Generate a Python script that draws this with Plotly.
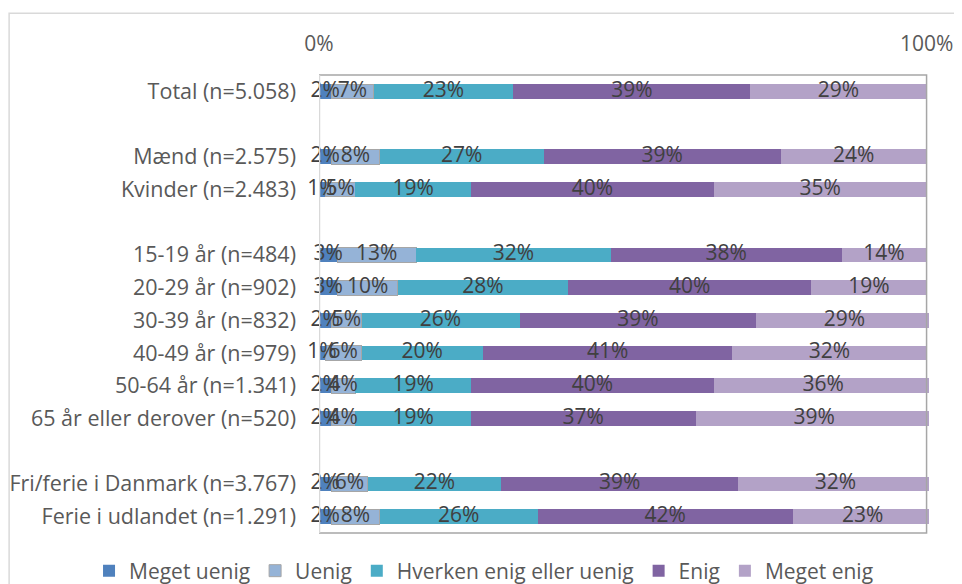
import plotly.graph_objects as go

categories = ["Total (n=5.058)", " ", "Mænd (n=2.575)", "Kvinder (n=2.483)", "  ",
              "15-19 år (n=484)", "20-29 år (n=902)", "30-39 år (n=832)", "40-49 år (n=979)",
              "50-64 år (n=1.341)", "65 år eller derover (n=520)", "   ",
              "Fri/ferie i Danmark (n=3.767)", "Ferie i udlandet (n=1.291)"]

series_names = ["Meget uenig", "Uenig", "Hverken enig eller uenig", "Enig", "Meget enig"]

meget_uenig = [2, None, 2, 1, None, 3, 3, 2, 1, 2, 2, None, 2, 2]
uenig       = [7, None, 8, 5, None, 13, 10, 5, 6, 4, 4, None, 6, 8]
hverken     = [23, None, 27, 19, None, 32, 28, 26, 20, 19, 19, None, 22, 26]
enig        = [39, None, 39, 40, None, 38, 40, 39, 41, 40, 37, None, 39, 42]
meget_enig  = [29, None, 24, 35, None, 14, 19, 29, 32, 36, 39, None, 32, 23]

tick_vals = [0, 100]
tick_text = ["0%", "100%"]

colors = ["#4F81BD", "#95B3D7", "#4BACC6", "#8064A2", "#B3A2C7"]
all_series = [meget_uenig, uenig, hverken, enig, meget_enig]

FONT = "Open Sans"
FS = 21
fig = go.Figure()
for name, vals, col in zip(series_names, all_series, colors):
    fig.add_trace(go.Bar(
        y=categories, x=vals, name=name, orientation="h",
        marker=dict(color=col, line=dict(color="#A6A6A6" if name == "Uenig" else col,
                                         width=1 if name == "Uenig" else 0)),
        width=0.45,
        hoverinfo="x+y+name",
    ))

# data labels on top of all bars, at the middle of each stacked segment
lab_x, lab_y, lab_t = [], [], []
for i, cat in enumerate(categories):
    base = 0
    for vals in all_series:
        v = vals[i]
        if v is None:
            continue
        lab_x.append(base + v / 2)
        lab_y.append(cat)
        lab_t.append(f"{v}%")
        base += v
fig.add_trace(go.Scatter(
    x=lab_x, y=lab_y, text=lab_t, mode="text", showlegend=False,
    textposition="middle center", cliponaxis=False, hoverinfo="skip",
    textfont=dict(color="#404040", size=FS, family=FONT),
))

# page body adds an 8px offset: figure sized so it fills the 962x584 window
W, H = 954, 576
fig.update_layout(
    barmode="stack",
    width=W, height=H,
    margin=dict(l=311, r=33, t=67, b=51, autoexpand=False),
    plot_bgcolor="white", paper_bgcolor="white",
    font=dict(family=FONT, size=FS, color="#595959"),
    xaxis=dict(side="top", range=[0, 100.4], tickvals=tick_vals, ticktext=tick_text,
               showgrid=False, zeroline=False, showline=False, ticks="",
               automargin=False,
               ticklabelstandoff=19, tickfont=dict(size=FS, color="#595959")),
    yaxis=dict(categoryorder="array", categoryarray=categories,
               range=[len(categories) - 0.5, -0.5],
               showgrid=False, zeroline=False, showline=False, ticks="",
               automargin=False,
               ticklabelstandoff=22, tickfont=dict(size=21.5, color="#595959")),
    legend=dict(orientation="h", xref="paper", yref="paper", x=-0.377, xanchor="left",
                y=-0.083, yanchor="middle", font=dict(size=FS, color="#595959"),
                traceorder="normal", itemwidth=30),
    showlegend=True,
    shapes=[
        dict(type="rect", xref="x", yref="y domain", x0=0, x1=100, y0=0, y1=1,
             line=dict(color="#A6A6A6", width=1.5), layer="above"),
        dict(type="line", xref="x", yref="y domain", x0=0, x1=0, y0=0, y1=1,
             line=dict(color="#D9D9D9", width=2.5), layer="above"),
        dict(type="rect", xref="paper", yref="paper", x0=-0.508, x1=1.1, y0=-0.2, y1=1.135,
             line=dict(color="#D9D9D9", width=1.5), layer="below"),
    ],
)

fig.write_html("out.html")
